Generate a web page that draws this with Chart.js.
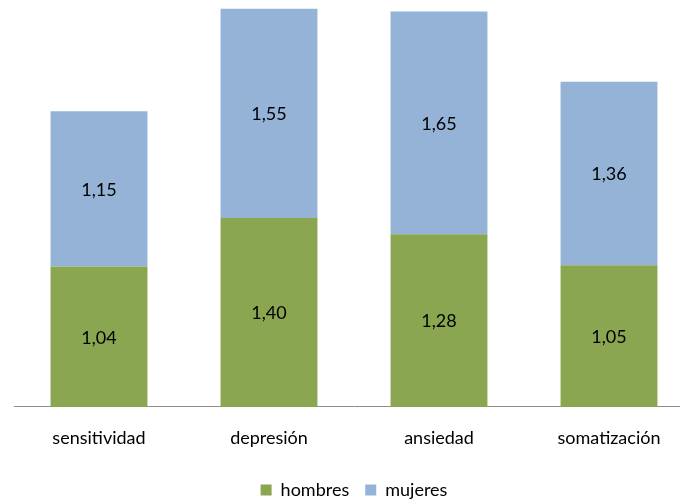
<!DOCTYPE html>
<html>
<head>
<meta charset="utf-8">
<script src="https://cdn.jsdelivr.net/npm/chart.js@4.4.0/dist/chart.umd.min.js"></script>
<style>
  html, body { margin: 0; padding: 0; background: #fff; overflow: hidden; }
  #wrap { position: relative; width: 700px; height: 502px; }
</style>
</head>
<body>
<div id="wrap"><canvas id="chart"></canvas></div>
<script>
// datos del gráfico
const categorias = ['sensitividad', 'depresión', 'ansiedad', 'somatización'];
const hombres = [1.04, 1.40, 1.28, 1.05];
const mujeres = [1.15, 1.55, 1.65, 1.36];

const FONT = 'Lato, "Open Sans", sans-serif';

// etiquetas de valor centradas en cada segmento
const valueLabels = {
    id: 'valueLabels',
    afterDatasetsDraw(chart) {
        const ctx = chart.ctx;
        ctx.save();
        ctx.font = '18px ' + FONT;
        ctx.fillStyle = '#000';
        ctx.textAlign = 'center';
        ctx.textBaseline = 'middle';
        chart.data.datasets.forEach((ds, i) => {
            chart.getDatasetMeta(i).data.forEach((bar, j) => {
                const mid = (bar.y + bar.base) / 2 + 1;
                ctx.fillText(ds.data[j].toFixed(2).replace('.', ','), bar.x, mid);
            });
        });
        ctx.restore();
    }
};

new Chart(document.getElementById('chart'), {
    type: 'bar',
    data: {
        labels: categorias,
        datasets: [
            { label: 'hombres', data: hombres, backgroundColor: '#8aa650' },
            { label: 'mujeres', data: mujeres, backgroundColor: '#95b3d7' }
        ]
    },
    options: {
        responsive: true,
        maintainAspectRatio: false,
        animation: false,
        layout: { padding: { left: 14, right: 6, top: 2, bottom: -7 } },
        datasets: { bar: { barPercentage: 0.57, categoryPercentage: 1 } },
        scales: {
            x: {
                stacked: true,
                grid: { display: false },
                border: { display: true, color: '#8c8c8c', width: 1 },
                ticks: { color: '#000', font: { family: FONT, size: 18 }, padding: 12 },
                afterFit(scale) { scale.height += 4.5; }
            },
            y: {
                stacked: true,
                display: false,
                min: 0,
                max: 3
            }
        },
        plugins: {
            legend: {
                position: 'bottom',
                labels: {
                    color: '#000',
                    font: { family: FONT, size: 18 },
                    boxWidth: 11,
                    boxHeight: 11,
                    padding: 16
                }
            },
            tooltip: { enabled: false }
        }
    },
    plugins: [valueLabels]
});
</script>
</body>
</html>
